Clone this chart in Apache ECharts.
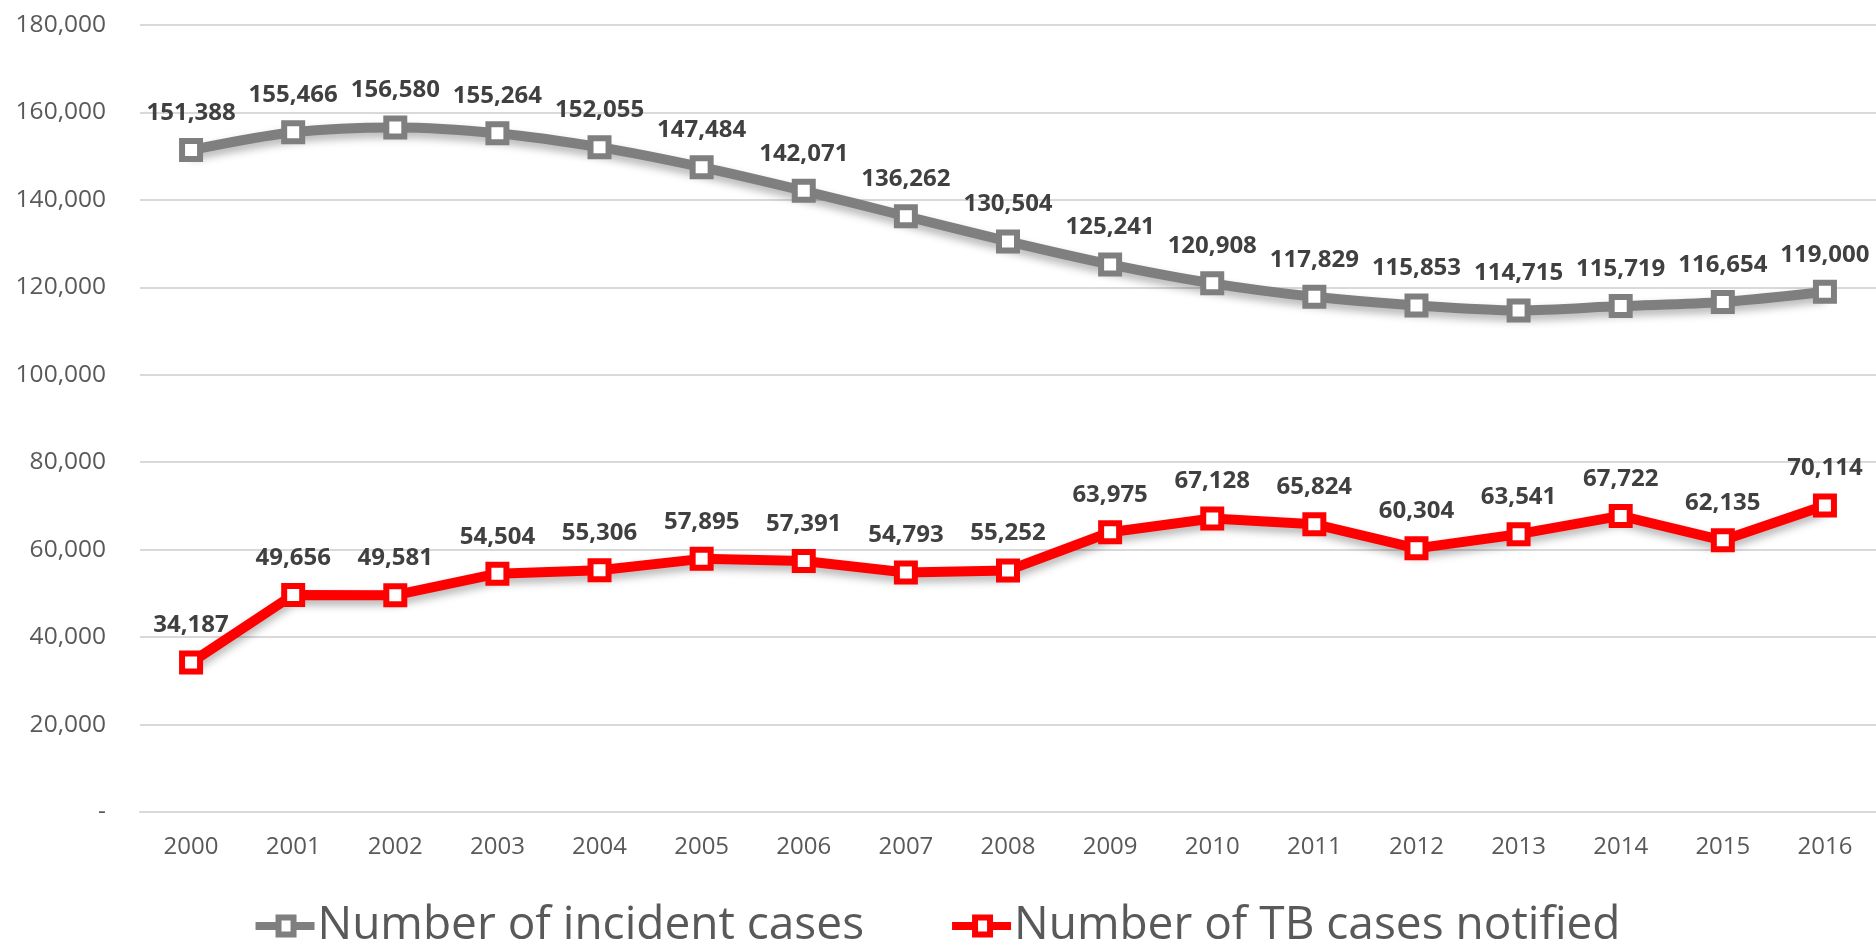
<!DOCTYPE html>
<html>
<head>
<meta charset="utf-8">
<script src="https://cdn.jsdelivr.net/npm/echarts@6/dist/echarts.min.js"></script>
<style>
  html, body { margin: 0; padding: 0; background: #fff; }
  #chart { width: 1876px; height: 945px; }
</style>
</head>
<body>
<div id="chart"></div>
<script>
// data
const years = ['2000', '2001', '2002', '2003', '2004', '2005', '2006', '2007', '2008',
  '2009', '2010', '2011', '2012', '2013', '2014', '2015', '2016'];
const incidentCases = [151388, 155466, 156580, 155264, 152055, 147484, 142071, 136262, 130504,
  125241, 120908, 117829, 115853, 114715, 115719, 116654, 119000];
const notifiedCases = [34187, 49656, 49581, 54504, 55306, 57895, 57391, 54793, 55252,
  63975, 67128, 65824, 60304, 63541, 67722, 62135, 70114];

const fmt = v => v === 0 ? '-' : v.toLocaleString('en-US');
const FONT = 'Open Sans';
// legend icon: thick line with a hollow square in the middle (inner square wound the other way = hole)
const LEGEND_ICON = 'path://M0,7.5 L20,7.5 L20,0 L41,0 L41,7.5 L59,7.5 L59,15.5 L41,15.5 L41,23 L20,23 L20,15.5 L0,15.5 Z M26,6 L26,17 L35,17 L35,6 Z';

// common style for both lines
const lineSeries = (name, color, values, smooth) => ({
  name: name,
  type: 'line',
  data: values,
  smooth: smooth,
  symbol: 'rect',
  symbolSize: 18,
  itemStyle: { color: '#fff', borderColor: color, borderWidth: 6 },
  lineStyle: {
    color: color, width: 10,
    shadowColor: 'rgba(0,0,0,0.3)', shadowBlur: 8, shadowOffsetY: 5
  },
  label: {
    show: true, position: 'top', distance: 13,
    fontFamily: FONT, fontWeight: 'bold', fontSize: 24, color: '#404040',
    formatter: p => fmt(p.value)
  },
  emphasis: { disabled: true }
});

let mychart = echarts.init(document.getElementById('chart'));
mychart.setOption({
  animation: false,
  textStyle: { fontFamily: FONT },
  grid: { left: 140, right: 0, top: 25, bottom: 133, containLabel: false },
  legend: {
    top: 898,
    left: 'center',
    itemGap: 88,
    itemWidth: 59,
    itemHeight: 23,
    textStyle: { fontFamily: FONT, fontSize: 46, color: '#595959', padding: [0, 0, 0, -2] },
    data: [
      { name: 'Number of incident cases', icon: LEGEND_ICON, itemStyle: { color: '#7f7f7f', borderWidth: 0 } },
      { name: 'Number of TB cases notified', icon: LEGEND_ICON, itemStyle: { color: '#ff0000', borderWidth: 0 } }
    ]
  },
  xAxis: {
    type: 'category',
    data: years,
    boundaryGap: true,
    axisTick: { show: false },
    axisLine: { lineStyle: { color: '#d9d9d9', width: 2 } },
    axisLabel: { color: '#595959', fontSize: 24, margin: 23, fontFamily: FONT }
  },
  yAxis: {
    type: 'value',
    min: 0,
    max: 180000,
    interval: 20000,
    axisLine: { show: false },
    axisTick: { show: false },
    splitLine: { lineStyle: { color: '#d9d9d9', width: 2 } },
    axisLabel: { color: '#595959', fontSize: 24.5, margin: 34, fontFamily: FONT, formatter: fmt }
  },
  series: [
    lineSeries('Number of incident cases', '#7f7f7f', incidentCases, 0.3),
    lineSeries('Number of TB cases notified', '#ff0000', notifiedCases, false)
  ]
});
</script>
</body>
</html>
